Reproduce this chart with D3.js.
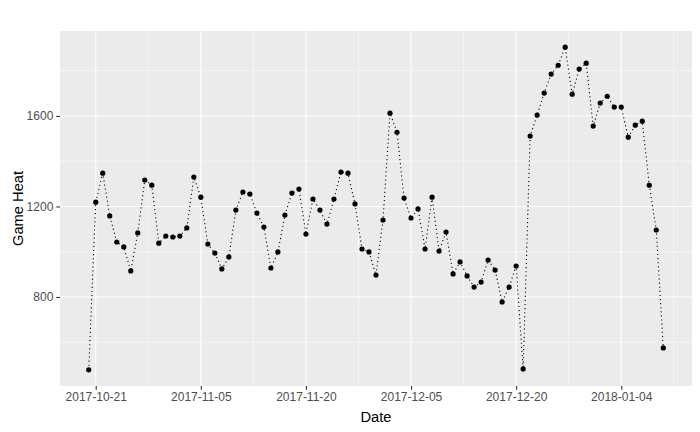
<!DOCTYPE html>
<html>
<head>
<meta charset="utf-8">
<script src="https://cdn.jsdelivr.net/npm/d3@7"></script>
<style>
  html, body { margin: 0; padding: 0; background: #fff; }
  svg { display: block; font-family: "Liberation Sans", Arial, sans-serif; }
</style>
</head>
<body>
<svg id="chart" width="700" height="432"></svg>
<script>
const startDate = "2017-10-20";
const gameHeat = [
  478, 1219, 1347, 1158, 1043, 1021, 915, 1083, 1317, 1294,
  1038, 1069, 1065, 1069, 1105, 1330, 1241, 1034, 994, 924,
  977, 1184, 1264, 1255, 1171, 1109, 928, 999, 1162, 1259,
  1277, 1078, 1233, 1184, 1122, 1233, 1352, 1347, 1211, 1012,
  999, 897, 1140, 1612, 1528, 1237, 1149, 1189, 1012, 1241,
  1003, 1087, 902, 955, 893, 844, 866, 963, 919, 778,
  844, 937, 482, 1511, 1604, 1701, 1785, 1824, 1904, 1696,
  1807, 1833, 1555, 1657, 1687, 1639, 1639, 1506, 1559, 1577,
  1294, 1096, 575
];
const xTickLabels = ["2017-10-21", "2017-11-05", "2017-11-20", "2017-12-05", "2017-12-20", "2018-01-04"];
const yTicks = [800, 1200, 1600];
const yMinor = [600, 1000, 1400, 1800];
const xTitle = "Date";
const yTitle = "Game Heat";

const parse = d3.utcParse("%Y-%m-%d");
const day0 = parse(startDate);
const data = gameHeat.map((v, i) => ({ date: d3.utcDay.offset(day0, i), value: v }));

const panel = { left: 60, right: 692, top: 31, bottom: 386 };
const svg = d3.select("#chart");

// ggplot-style 5% expansion
const xExt = d3.extent(data, d => d.date);
const xSpan = xExt[1] - xExt[0];
const x = d3.scaleUtc()
  .domain([new Date(+xExt[0] - 0.05 * xSpan), new Date(+xExt[1] + 0.05 * xSpan)])
  .range([panel.left, panel.right]);
const yExt = d3.extent(data, d => d.value);
const ySpan = yExt[1] - yExt[0];
const y = d3.scaleLinear()
  .domain([yExt[0] - 0.05 * ySpan, yExt[1] + 0.05 * ySpan])
  .range([panel.bottom, panel.top]);

// panel background
svg.append("rect")
  .attr("x", panel.left).attr("y", panel.top)
  .attr("width", panel.right - panel.left).attr("height", panel.bottom - panel.top)
  .attr("fill", "#EBEBEB");

const xMajor = xTickLabels.map(parse);
const step = xMajor[1] - xMajor[0];
const xMinorDates = [];
for (let k = -1; k < xMajor.length; k++) {
  const d = new Date(+xMajor[0] + (k + 0.5) * step);
  if (x(d) >= panel.left && x(d) <= panel.right) xMinorDates.push(d);
}

const grid = svg.append("g");
grid.selectAll(".ymin").data(yMinor).join("line")
  .attr("x1", panel.left).attr("x2", panel.right)
  .attr("y1", d => y(d)).attr("y2", d => y(d))
  .attr("stroke", "#fff").attr("stroke-width", 0.55);
grid.selectAll(".xmin").data(xMinorDates).join("line")
  .attr("y1", panel.top).attr("y2", panel.bottom)
  .attr("x1", d => x(d)).attr("x2", d => x(d))
  .attr("stroke", "#fff").attr("stroke-width", 0.55);
grid.selectAll(".ymaj").data(yTicks).join("line")
  .attr("x1", panel.left).attr("x2", panel.right)
  .attr("y1", d => y(d)).attr("y2", d => y(d))
  .attr("stroke", "#fff").attr("stroke-width", 1.1);
grid.selectAll(".xmaj").data(xMajor).join("line")
  .attr("y1", panel.top).attr("y2", panel.bottom)
  .attr("x1", d => x(d)).attr("x2", d => x(d))
  .attr("stroke", "#fff").attr("stroke-width", 1.1);

// line
const line = d3.line().x(d => x(d.date)).y(d => y(d.value));
svg.append("path").datum(data)
  .attr("d", line)
  .attr("fill", "none")
  .attr("stroke", "#000")
  .attr("stroke-width", 1.1)
  .attr("stroke-dasharray", "1.1,3");

// points
svg.append("g").selectAll("circle").data(data).join("circle")
  .attr("cx", d => x(d.date)).attr("cy", d => y(d.value))
  .attr("r", 2.6).attr("fill", "#000");

// axes
const xAxis = d3.axisBottom(x).tickValues(xMajor)
  .tickFormat(d3.utcFormat("%Y-%m-%d")).tickSize(3.7).tickPadding(3);
const gx = svg.append("g").attr("transform", `translate(0,${panel.bottom})`).call(xAxis);
gx.select(".domain").remove();
gx.selectAll(".tick line").attr("stroke", "#333").attr("stroke-width", 1.1);
gx.selectAll(".tick text").attr("fill", "#4D4D4D").attr("font-size", "12px")
  .attr("font-family", "Liberation Sans, Arial, sans-serif");

const yAxis = d3.axisLeft(y).tickValues(yTicks).tickFormat(d3.format("d"))
  .tickSize(3.7).tickPadding(3);
const gy = svg.append("g").attr("transform", `translate(${panel.left},0)`).call(yAxis);
gy.select(".domain").remove();
gy.selectAll(".tick line").attr("stroke", "#333").attr("stroke-width", 1.1);
gy.selectAll(".tick text").attr("fill", "#4D4D4D").attr("font-size", "12px")
  .attr("font-family", "Liberation Sans, Arial, sans-serif");

// titles
svg.append("text")
  .attr("x", (panel.left + panel.right) / 2).attr("y", 421.5)
  .attr("text-anchor", "middle").attr("font-size", "14.7px").attr("fill", "#000")
  .text(xTitle);
svg.append("text")
  .attr("transform", `translate(23,${(panel.top + panel.bottom) / 2}) rotate(-90)`)
  .attr("text-anchor", "middle").attr("font-size", "14.7px").attr("fill", "#000")
  .text(yTitle);
</script>
</body>
</html>
